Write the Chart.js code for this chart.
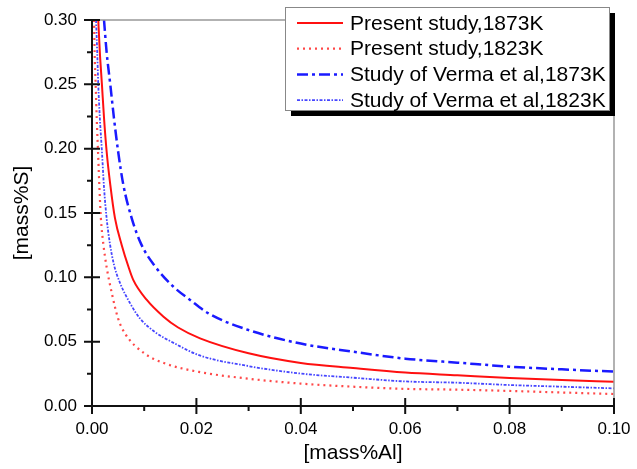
<!DOCTYPE html>
<html>
<head>
<meta charset="utf-8">
<script src="https://cdn.jsdelivr.net/npm/chart.js@4"></script>
<style>
  body { margin: 0; background: #fff; }
</style>
</head>
<body>
<canvas id="c" width="637" height="469"></canvas>
<script>
// values
const xTicks = [0, 0.02, 0.04, 0.06, 0.08, 0.10];
const yTicks = [0, 0.05, 0.10, 0.15, 0.20, 0.25, 0.30];

const legendLabels = [
  'Present study,1873K',
  'Present study,1823K',
  'Study of Verma et al,1873K',
  'Study of Verma et al,1823K'
];

const alPresent1873 = [0.0012, 0.0015, 0.0019, 0.0023, 0.0028, 0.0035, 0.0044, 0.0057, 0.007, 0.0079, 0.0105, 0.0137, 0.0165, 0.0207, 0.03, 0.04, 0.05, 0.06, 0.07, 0.08, 0.09, 0.10];
const sPresent1873 = [0.30, 0.275, 0.25, 0.224, 0.198, 0.172, 0.146, 0.125, 0.108, 0.098, 0.0824, 0.0694, 0.061, 0.0526, 0.041, 0.0335, 0.0295, 0.026, 0.0239, 0.0218, 0.0202, 0.0189];

const alPresent1823 = [0.0004, 0.0005, 0.0007, 0.0009, 0.00115, 0.0014, 0.0017, 0.0022, 0.0028, 0.0038, 0.005, 0.0063, 0.0100, 0.0139, 0.0205, 0.03, 0.04, 0.05, 0.06, 0.07, 0.08, 0.09, 0.10];
const sPresent1823 = [0.30, 0.275, 0.25, 0.224, 0.198, 0.172, 0.146, 0.125, 0.108, 0.0876, 0.068, 0.0565, 0.041, 0.0332, 0.0265, 0.0212, 0.0174, 0.015, 0.0133, 0.0127, 0.0117, 0.0105, 0.0093];

const alVerma1873 = [0.0023, 0.0028, 0.0035, 0.0042, 0.005, 0.006, 0.0076, 0.0094, 0.012, 0.0156, 0.0188, 0.0223, 0.03, 0.04, 0.05, 0.06, 0.07, 0.08, 0.09, 0.10];
const sVerma1873 = [0.30, 0.275, 0.25, 0.224, 0.198, 0.172, 0.146, 0.126, 0.109, 0.0927, 0.0824, 0.072, 0.059, 0.0485, 0.0422, 0.0368, 0.0337, 0.0306, 0.0285, 0.0267];

const alVerma1823 = [0.00077, 0.001, 0.0012, 0.0015, 0.0019, 0.0023, 0.0028, 0.0034, 0.0042, 0.0054, 0.0073, 0.0092, 0.012, 0.0158, 0.0205, 0.03, 0.04, 0.05, 0.06, 0.07, 0.08, 0.09, 0.10];
const sVerma1823 = [0.30, 0.275, 0.25, 0.224, 0.198, 0.170, 0.146, 0.127, 0.110, 0.0953, 0.0798, 0.068, 0.0577, 0.0487, 0.0395, 0.031, 0.0252, 0.022, 0.0191, 0.0181, 0.0163, 0.015, 0.0137];

function pts(xs, ys) {
  return xs.map((x, i) => ({x: x, y: ys[i]}));
}

const FONT = '"Liberation Sans", Arial, sans-serif';

// ticks through both sides of the axes, minor ticks outward, grey top/right frame
const framePlugin = {
  id: 'frame',
  afterDatasetsDraw(chart) {
    const ctx = chart.ctx;
    const a = chart.chartArea;
    const xs = chart.scales.x, ys = chart.scales.y;
    ctx.save();
    ctx.strokeStyle = '#999';
    ctx.lineWidth = 1.5;
    ctx.beginPath();
    ctx.moveTo(a.left, a.top);
    ctx.lineTo(a.right, a.top);
    ctx.lineTo(a.right, a.bottom);
    ctx.stroke();

    ctx.strokeStyle = '#111';
    ctx.lineWidth = 2;
    ctx.beginPath();
    xTicks.forEach((v, i) => {
      const px = xs.getPixelForValue(v);
      ctx.moveTo(px, a.bottom - 8);
      ctx.lineTo(px, a.bottom + 8);
      if (i < xTicks.length - 1) {
        const mx = xs.getPixelForValue((v + xTicks[i + 1]) / 2);
        ctx.moveTo(mx, a.bottom);
        ctx.lineTo(mx, a.bottom + 5);
      }
    });
    yTicks.forEach((v, i) => {
      const py = ys.getPixelForValue(v);
      ctx.moveTo(a.left - 8, py);
      ctx.lineTo(a.left + 8, py);
      if (i < yTicks.length - 1) {
        const my = ys.getPixelForValue((v + yTicks[i + 1]) / 2);
        ctx.moveTo(a.left - 5, my);
        ctx.lineTo(a.left, my);
      }
    });
    ctx.stroke();
    ctx.restore();
  }
};

// boxed legend with drop shadow
const legendPlugin = {
  id: 'boxLegend',
  afterDraw(chart) {
    const ctx = chart.ctx;
    const bx = 285, by = 7, bw = 324, bh = 103;
    ctx.save();
    ctx.fillStyle = '#000';
    ctx.fillRect(bx + 6, by + 6, bw, bh);
    ctx.fillStyle = '#fff';
    ctx.fillRect(bx, by, bw, bh);
    ctx.strokeStyle = '#888';
    ctx.lineWidth = 1;
    ctx.strokeRect(bx + 0.5, by + 0.5, bw, bh);

    ctx.font = '21px ' + FONT;
    ctx.textBaseline = 'middle';
    chart.data.datasets.forEach((ds, i) => {
      const y = 23 + i * 25.7;
      ctx.strokeStyle = ds.borderColor;
      ctx.lineWidth = ds.borderWidth;
      ctx.setLineDash(ds.borderDash || []);
      ctx.beginPath();
      ctx.moveTo(297, y);
      ctx.lineTo(343, y);
      ctx.stroke();
      ctx.setLineDash([]);
      ctx.fillStyle = '#000';
      ctx.fillText(ds.label, 350, y + 1);
    });
    ctx.restore();
  }
};

new Chart(document.getElementById('c'), {
  type: 'line',
  data: {
    datasets: [
      {
        label: legendLabels[0],
        data: pts(alPresent1873, sPresent1873),
        borderColor: '#ff1010',
        borderWidth: 2
      },
      {
        label: legendLabels[1],
        data: pts(alPresent1823, sPresent1823),
        borderColor: '#ff4848',
        borderWidth: 2.2,
        borderDash: [2, 4]
      },
      {
        label: legendLabels[2],
        data: pts(alVerma1873, sVerma1873),
        borderColor: '#1a1aff',
        borderWidth: 2.5,
        borderDash: [11, 4, 3, 4]
      },
      {
        label: legendLabels[3],
        data: pts(alVerma1823, sVerma1823),
        borderColor: '#4646ff',
        borderWidth: 1.8,
        borderDash: [3, 1.5, 1.5, 1.5]
      }
    ]
  },
  options: {
    responsive: false,
    animation: false,
    devicePixelRatio: 1,
    layout: { padding: { top: 20, right: 23, left: 0, bottom: 0 } },
    elements: {
      point: { radius: 0 },
      line: { cubicInterpolationMode: 'monotone', fill: false }
    },
    plugins: {
      legend: { display: false },
      tooltip: { enabled: false }
    },
    scales: {
      x: {
        type: 'linear',
        min: 0,
        max: 0.1,
        afterFit: s => { s.height = 63; s.paddingLeft = 0; s.paddingRight = 0; },
        afterBuildTicks: s => { s.ticks = xTicks.map(v => ({value: v})); },
        grid: { display: false },
        border: { display: true, color: '#111', width: 2 },
        ticks: {
          padding: 5,
          color: '#000',
          font: { family: FONT, size: 17 },
          maxRotation: 0,
          callback: v => v.toFixed(2)
        },
        title: {
          display: true,
          text: '[mass%Al]',
          color: '#000',
          font: { family: FONT, size: 21 },
          padding: { bottom: 3 }
        }
      },
      y: {
        type: 'linear',
        min: 0,
        max: 0.3,
        afterFit: s => { s.width = 92; s.paddingTop = 0; s.paddingBottom = 0; },
        afterBuildTicks: s => { s.ticks = yTicks.map(v => ({value: v})); },
        grid: { display: false },
        border: { display: true, color: '#111', width: 2 },
        ticks: {
          padding: 7,
          color: '#000',
          font: { family: FONT, size: 17 },
          callback: v => v.toFixed(2)
        },
        title: {
          display: true,
          text: '[mass%S]',
          color: '#000',
          font: { family: FONT, size: 21 },
          padding: { top: 10 }
        }
      }
    }
  },
  plugins: [framePlugin, legendPlugin]
});
</script>
</body>
</html>
